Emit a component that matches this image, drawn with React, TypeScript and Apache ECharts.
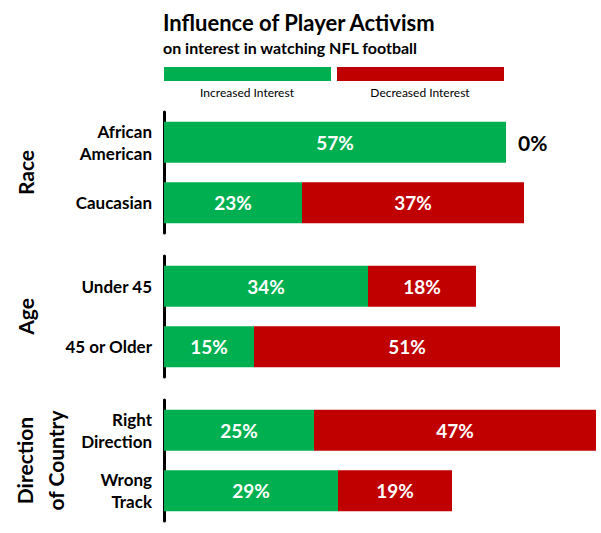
import React, { useEffect, useRef } from "react";
import * as echarts from "echarts";

const groupLabels = ["Race", "Age", "Direction\nof Country"];
const categories = [
  ["African\nAmerican", "Caucasian"],
  ["Under 45", "45 or Older"],
  ["Right\nDirection", "Wrong\nTrack"],
];
const increased = [
  [57, 23],
  [34, 15],
  [25, 29],
];
const decreased = [
  [0, 37],
  [18, 51],
  [47, 19],
];
const legendNames = ["Increased Interest", "Decreased Interest"];
const titleText = "Influence of Player Activism";
const subtitleText = "on interest in watching NFL football";

const GREEN = "#00B050";
const RED = "#C00000";
const FONT = "Lato, 'Open Sans', sans-serif";

export default function App() {
  const ref = useRef<HTMLDivElement>(null);
  useEffect(() => {
    if (!ref.current) return;
    const chart = echarts.init(ref.current, undefined, { renderer: "svg" });
    const gridTops = [112, 256, 400];
    const gridH = 121;
    const grids = gridTops.map((t) => ({ left: 164, top: t, width: 432, height: gridH }));
    const xAxes = gridTops.map((_, i) => ({
      type: "value",
      gridIndex: i,
      min: 0,
      max: 72,
      show: false,
    }));
    const yAxes = categories.map((cats, i) => ({
      type: "category",
      gridIndex: i,
      data: cats,
      inverse: true,
      axisLine: { show: true, lineStyle: { color: "#000", width: 3 } },
      axisTick: { show: false },
      axisLabel: {
        color: "#000",
        fontFamily: FONT,
        fontWeight: "bold",
        fontSize: 17,
        lineHeight: 22,
        margin: 12,
        align: "right",
      },
    }));
    const labelBase = {
      show: true,
      color: "#fff",
      fontFamily: FONT,
      fontWeight: "bold",
      fontSize: 19,
      formatter: (p: any) => p.value + "%",
    };
    const series: any[] = [];
    categories.forEach((_, i) => {
      series.push({
        type: "bar",
        name: legendNames[0],
        xAxisIndex: i,
        yAxisIndex: i,
        stack: "s" + i,
        barWidth: 41,
        itemStyle: { color: GREEN },
        label: { ...labelBase, position: "inside" },
        data: increased[i],
      });
      series.push({
        type: "bar",
        name: legendNames[1],
        xAxisIndex: i,
        yAxisIndex: i,
        stack: "s" + i,
        barWidth: 41,
        itemStyle: { color: RED },
        label: { ...labelBase, position: "inside" },
        data: decreased[i].map((v) =>
          v === 0
            ? {
                value: v,
                label: {
                  ...labelBase,
                  position: "right",
                  distance: 12,
                  color: "#000",
                  fontSize: 21,
                },
              }
            : v
        ),
      });
    });
    const groupCenters = gridTops.map((t) => t + gridH / 2);
    const graphics: any[] = [
      {
        type: "text",
        left: 163,
        top: 11,
        style: { text: titleText, fontFamily: FONT, fontWeight: "bold", fontSize: 22, fill: "#000" },
      },
      {
        type: "text",
        left: 163,
        top: 39,
        style: { text: subtitleText, fontFamily: FONT, fontWeight: "bold", fontSize: 16, fill: "#000" },
      },
      { type: "rect", shape: { x: 164, y: 67, width: 167, height: 14 }, style: { fill: GREEN } },
      { type: "rect", shape: { x: 337, y: 67, width: 167, height: 14 }, style: { fill: RED } },
      {
        type: "text",
        x: 247,
        y: 92,
        style: { text: legendNames[0], fontFamily: FONT, fontSize: 12, fill: "#000", align: "center", verticalAlign: "middle" },
      },
      {
        type: "text",
        x: 420,
        y: 92,
        style: { text: legendNames[1], fontFamily: FONT, fontSize: 12, fill: "#000", align: "center", verticalAlign: "middle" },
      },
    ];
    groupLabels.forEach((g, i) => {
      const multi = g.includes("\n");
      graphics.push({
        type: "text",
        x: multi ? 40 : 25,
        y: groupCenters[i],
        rotation: Math.PI / 2,
        style: {
          text: g,
          fontFamily: FONT,
          fontWeight: "bold",
          fontSize: 21,
          lineHeight: 31,
          fill: "#000",
          align: "center",
          verticalAlign: "middle",
        },
      });
    });
    chart.setOption({
      animation: false,
      backgroundColor: "#fff",
      grid: grids,
      xAxis: xAxes,
      yAxis: yAxes,
      series,
      graphic: graphics,
    });
    return () => chart.dispose();
  }, []);
  return (
    <div
      ref={ref}
      style={{ position: "fixed", left: 0, top: 0, width: 601, height: 533, background: "#fff" }}
    />
  );
}
